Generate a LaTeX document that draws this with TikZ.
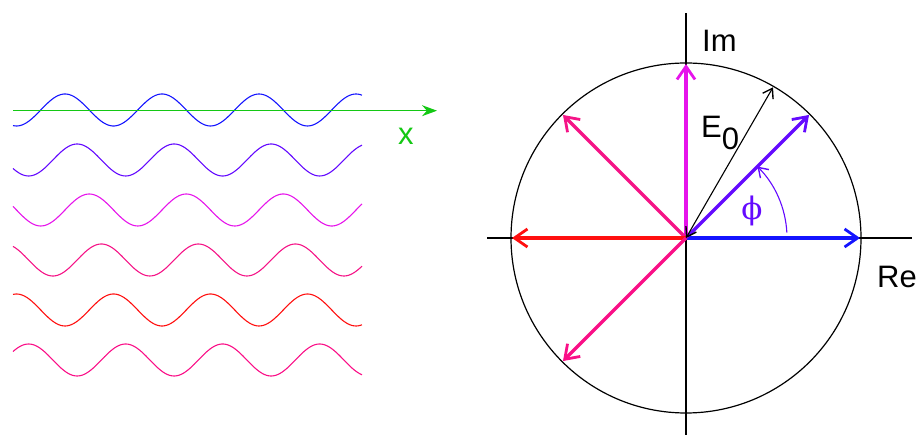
\documentclass[tikz,border=0pt]{standalone}
\usepackage{fontspec}
\setmainfont{Liberation Sans}
\newfontfamily\grkfont{DejaVu Serif}
\usetikzlibrary{arrows.meta}
\definecolor{col0}{RGB}{20,20,255}
\definecolor{col1}{RGB}{100,10,255}
\definecolor{col2}{RGB}{230,20,235}
\definecolor{col3}{RGB}{245,20,135}
\definecolor{col4}{RGB}{255,15,15}
\definecolor{col5}{RGB}{250,15,135}
\definecolor{xgreen}{RGB}{20,200,20}
\tikzset{
  wave/.style={line width=1.1pt},
  phasor/.style={line width=3.4pt,-{Straight Barb[length=13pt,width=18pt,line width=2.8pt]}},
  thinarrow/.style={line width=1.1pt,-{Straight Barb[length=9pt,width=12pt,line width=1.4pt]}},
  bothtips/.style={line width=1.1pt,{Straight Barb[length=9pt,width=12pt,line width=1.4pt]}-{Straight Barb[length=9pt,width=12pt,line width=1.4pt]}},
  lbl/.style={font=\fontsize{31}{31}\selectfont,inner sep=0pt}
}
\begin{document}
\begin{tikzpicture}[x=1pt,y=1pt]
  \useasboundingbox (0,0) rectangle (920,435);
  % waves, each shifted by 45 degrees
  \foreach \k/\c in {0/col0,1/col1,2/col2,3/col3,4/col4,5/col5}
    \draw [wave,\c] plot [domain=13:362,samples=180,smooth]
      (\x,{325-50*\k+16*cos((\x-65-97*\k/8)/97*360)});
  \coordinate (x0) at (13,324.3);
  \coordinate (x1) at (437,324.3);
  \draw [line width=1.2pt,xgreen,-{Stealth[length=15pt,width=11pt]}] (x0) -- (x1);
  \node [lbl,text=xgreen,anchor=base west] (xlab) at (398,290) {x};
  % complex plane
  \coordinate (O) at (686,197);
  \coordinate (reL) at (487,197);
  \coordinate (reR) at (912,197);
  \coordinate (imB) at (686,0);
  \coordinate (imT) at (686,422);
  \draw [line width=1.1pt] (reL) -- (reR);
  \draw [line width=1.1pt] (imB) -- (imT);
  \draw [line width=1.2pt] (O) circle [radius=175];
  \node [lbl,anchor=base west] (imlab) at (702,383) {Im};
  \node [lbl,anchor=base west] (relab) at (877,147) {Re};
  % phasors
  \foreach \k/\c in {0/col0,1/col1,2/col2,3/col3,4/col4,5/col5} {
    \path (O) ++(45*\k:174) coordinate (p\k);
    \draw [phasor,\c] (O) -- (p\k);
  }
  % amplitude
  \path (O) ++(60:174) coordinate (e0);
  \draw [bothtips] (O) -- (e0);
  \node [lbl,anchor=base west] (elab) at (701,297) {E\raisebox{-12pt}{0}};
  % phase angle
  \draw [thinarrow,col1] (O) ++(3:101) arc [start angle=3,end angle=45,radius=101];
  \node [lbl,text=col1] (philab) at (752,224) {\grkfont ϕ};
\end{tikzpicture}
\end{document}
